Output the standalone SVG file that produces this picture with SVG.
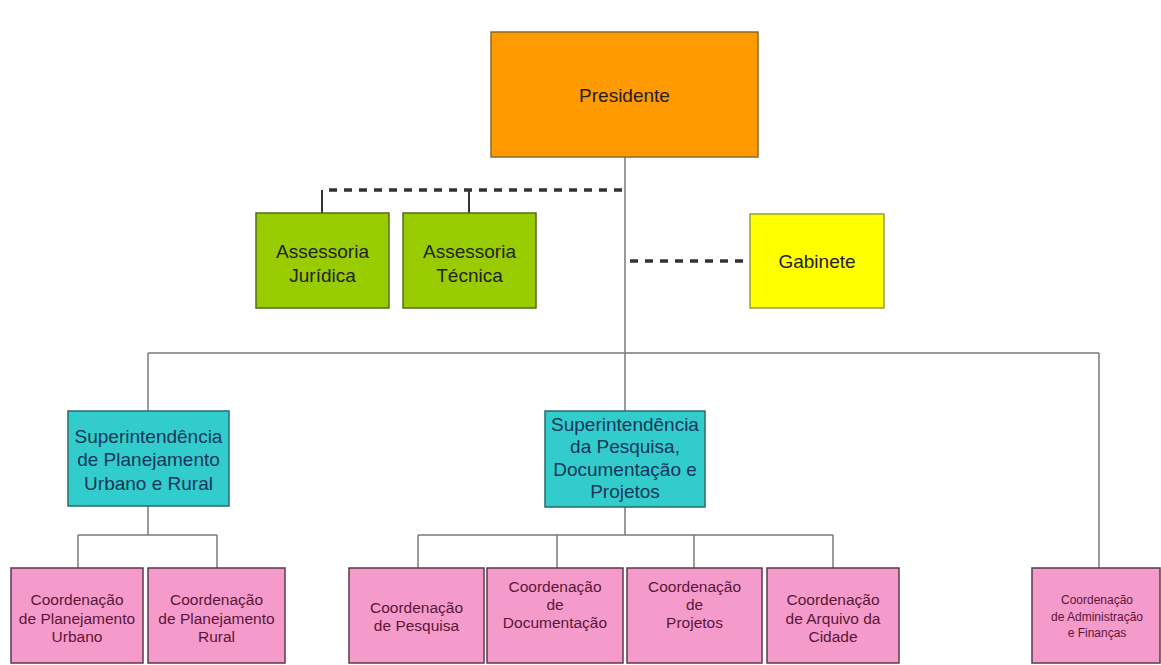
<svg xmlns="http://www.w3.org/2000/svg" width="1161" height="665" viewBox="0 0 1161 665">
<style>
  text { font-family: "Liberation Sans", Arial, sans-serif; text-anchor: middle; }
  .box { stroke-width: 1.5; }
  .pres { fill: #FF9A00; stroke: #8A6A2A; }
  .green { fill: #99CC00; stroke: #556B1C; }
  .yellow { fill: #FFFF00; stroke: #9A9A40; }
  .cyan { fill: #33CCCC; stroke: #2A6B6B; }
  .pink { fill: #F59BCB; stroke: #5A3A4A; }
  .t19 { font-size: 19px; fill: #222; }
  .tc { font-size: 19px; fill: #14365A; }
  .tp { font-size: 15.5px; fill: #5A1638; }
  .ts { font-size: 12px; fill: #5A1638; }
  .solid { stroke: #7A7A7A; stroke-width: 1.5; fill: none; }
  .dash { stroke: #333; stroke-width: 3.5; stroke-dasharray: 8 7; fill: none; }
  .tick { stroke: #333; stroke-width: 2; fill: none; }
</style>
<rect width="1161" height="665" fill="#FFFFFF"/>
<g id="connectors">
  <path class="solid" d="M625 157 V411 M625 507 V535 M148 353 H1099 M148 353 V411 M1099 353 V568"/>
  <path class="solid" d="M148 506 V535 M78 535 H217 M78 535 V568 M217 535 V568"/>
  <path class="solid" d="M418 535 H833 M418 535 V568 M557 535 V568 M694 535 V568 M833 535 V568"/>
  <path class="dash" d="M622 190 H322"/>
  <path class="tick" d="M322 190 V213 M469 190 V213"/>
  <path class="dash" d="M630 261 H750"/>
</g>
<g id="presidente">
  <rect class="box pres" x="491" y="32" width="267" height="125"/>
  <text class="t19" x="624.5" y="102" fill="#3A1A1A">Presidente</text>
</g>
<g id="assessoria-juridica">
  <rect class="box green" x="256" y="213" width="133" height="95"/>
  <text class="t19" x="322.5" y="258">Assessoria</text>
  <text class="t19" x="322.5" y="282">Jurídica</text>
</g>
<g id="assessoria-tecnica">
  <rect class="box green" x="403" y="213" width="133" height="95"/>
  <text class="t19" x="469.5" y="258">Assessoria</text>
  <text class="t19" x="469.5" y="282">Técnica</text>
</g>
<g id="gabinete">
  <rect class="box yellow" x="750" y="214" width="134" height="94"/>
  <text class="t19" x="817" y="268">Gabinete</text>
</g>
<g id="sup-planejamento">
  <rect class="box cyan" x="68" y="411" width="161" height="95"/>
  <text class="tc" x="148.5" y="443">Superintendência</text>
  <text class="tc" x="148.5" y="466">de Planejamento</text>
  <text class="tc" x="148.5" y="490">Urbano e Rural</text>
</g>
<g id="sup-pesquisa">
  <rect class="box cyan" x="545" y="411" width="160" height="96"/>
  <text class="tc" x="625" y="431">Superintendência</text>
  <text class="tc" x="625" y="453">da Pesquisa,</text>
  <text class="tc" x="625" y="476">Documentação e</text>
  <text class="tc" x="625" y="498">Projetos</text>
</g>
<g id="coord-plan-urbano">
  <rect class="box pink" x="11" y="568" width="132" height="95"/>
  <text class="tp" x="77" y="605">Coordenação</text>
  <text class="tp" x="77" y="624">de Planejamento</text>
  <text class="tp" x="77" y="642">Urbano</text>
</g>
<g id="coord-plan-rural">
  <rect class="box pink" x="148" y="568" width="137" height="95"/>
  <text class="tp" x="216.5" y="605">Coordenação</text>
  <text class="tp" x="216.5" y="624">de Planejamento</text>
  <text class="tp" x="216.5" y="642">Rural</text>
</g>
<g id="coord-pesquisa">
  <rect class="box pink" x="349" y="568" width="135" height="95"/>
  <text class="tp" x="416.5" y="613">Coordenação</text>
  <text class="tp" x="416.5" y="631">de Pesquisa</text>
</g>
<g id="coord-documentacao">
  <rect class="box pink" x="487" y="568" width="136" height="95"/>
  <text class="tp" x="555" y="592">Coordenação</text>
  <text class="tp" x="555" y="610">de</text>
  <text class="tp" x="555" y="628">Documentação</text>
</g>
<g id="coord-projetos">
  <rect class="box pink" x="627" y="568" width="135" height="95"/>
  <text class="tp" x="694.5" y="592">Coordenação</text>
  <text class="tp" x="694.5" y="610">de</text>
  <text class="tp" x="694.5" y="628">Projetos</text>
</g>
<g id="coord-arquivo">
  <rect class="box pink" x="767" y="568" width="132" height="95"/>
  <text class="tp" x="833" y="605">Coordenação</text>
  <text class="tp" x="833" y="624">de Arquivo da</text>
  <text class="tp" x="833" y="642">Cidade</text>
</g>
<g id="coord-administracao">
  <rect class="box pink" x="1032" y="568" width="128" height="95"/>
  <text class="ts" x="1097" y="604">Coordenação</text>
  <text class="ts" x="1097" y="621">de Administração</text>
  <text class="ts" x="1097" y="637">e Finanças</text>
</g>
</svg>
